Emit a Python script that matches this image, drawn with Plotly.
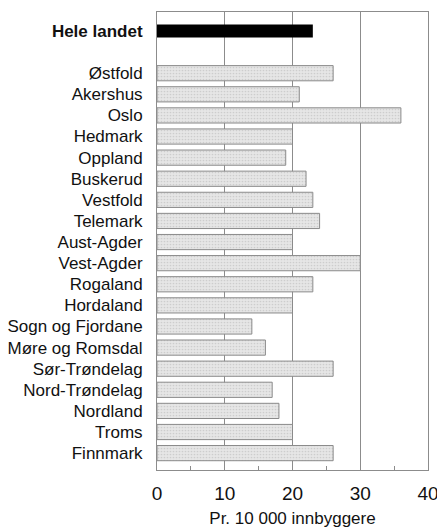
import plotly.graph_objects as go

# Data (per 10 000 inhabitants)
national_label = "Hele landet"
national_value = 23

counties = [
    "Østfold", "Akershus", "Oslo", "Hedmark", "Oppland", "Buskerud",
    "Vestfold", "Telemark", "Aust-Agder", "Vest-Agder", "Rogaland",
    "Hordaland", "Sogn og Fjordane", "Møre og Romsdal", "Sør-Trøndelag",
    "Nord-Trøndelag", "Nordland", "Troms", "Finnmark",
]
rates = [26, 21, 36, 20, 19, 22, 23, 24, 20, 30, 23, 20, 14, 16, 26, 17, 18, 20, 26]

x_ticks = [0, 10, 20, 30, 40]
x_title = "Pr. 10 000 innbyggere"

FONT = "Liberation Sans, Arial, sans-serif"

# national bar on row 0, one empty row, then counties
county_pos = [i + 2 for i in range(len(counties))]

fig = go.Figure()
fig.add_trace(
    go.Bar(
        x=[national_value],
        y=[0],
        orientation="h",
        width=0.62,
        marker=dict(color="#000000", line=dict(width=0)),
        showlegend=False,
    )
)
fig.add_trace(
    go.Bar(
        x=rates,
        y=county_pos,
        orientation="h",
        width=0.72,
        marker=dict(
            color="#e6e6e6",
            line=dict(color="#8a8a8a", width=1),
            pattern=dict(shape=".", fgcolor="#b4b4b4", size=3, solidity=0.25),
        ),
        showlegend=False,
    )
)

fig.update_layout(
    width=437,
    height=530,
    margin=dict(l=157, r=9, t=12, b=60),
    paper_bgcolor="white",
    plot_bgcolor="white",
    font=dict(family=FONT, size=17, color="#111111"),
)
fig.update_xaxes(
    range=[0, 40],
    tickvals=x_ticks,
    ticktext=[str(t) for t in x_ticks],
    showgrid=True,
    gridcolor="#8c8c8c",
    gridwidth=1,
    zeroline=False,
    showline=True,
    linecolor="#8c8c8c",
    linewidth=1,
    mirror=True,
    ticks="",
    ticklabelstandoff=6,
    ticklabeloverflow="allow",
    tickfont=dict(size=19),
    minor=dict(tickvals=[5, 15, 25, 35], ticks="inside", ticklen=4, tickcolor="#8c8c8c"),
    title=dict(text=x_title, font=dict(size=17), standoff=9),
    automargin=False,
)
fig.update_yaxes(
    range=[20.8, -0.9],
    tickvals=[0] + county_pos,
    ticktext=["<b>" + national_label + "</b>"] + counties,
    showgrid=False,
    zeroline=False,
    showline=True,
    linecolor="#8c8c8c",
    linewidth=1,
    mirror=True,
    ticks="",
    ticklabelstandoff=10,
    tickfont=dict(size=17),
    automargin=False,
)

# drop the browser's default body margin so the figure sits at the page corner
fig.write_html(
    "out.html",
    config={"displayModeBar": False},
    post_script="document.body.style.margin='0';",
)
